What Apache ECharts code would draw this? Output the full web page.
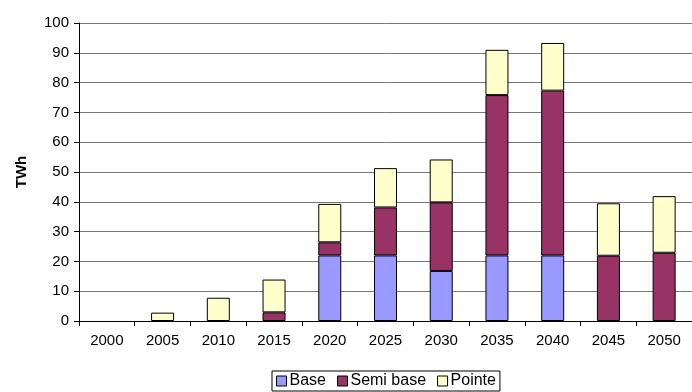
<!DOCTYPE html>
<html><head><meta charset="utf-8">
<script src="https://cdn.jsdelivr.net/npm/echarts@6/dist/echarts.min.js"></script>
<style>html,body{margin:0;padding:0;background:#fff}#c{width:692px;height:392px}</style>
</head><body><div id="c"></div>
<script>
var categories = ['2000','2005','2010','2015','2020','2025','2030','2035','2040','2045','2050'];
var base     = [0, 0, 0, 0, 22, 22, 16.8, 22, 22, 0, 0];
var semiBase = [0, 0, 0, 2.9, 4.4, 16.1, 23, 53.8, 55.3, 21.9, 22.9];
var pointe   = [0, 2.8, 7.8, 11, 12.9, 13.2, 14.4, 15.2, 16, 17.6, 19];
var yTicks = [0,10,20,30,40,50,60,70,80,90,100];

var font = 'Liberation Sans, Arial, sans-serif';
var chart = echarts.init(document.getElementById('c'), null, {renderer:'canvas'});
function s(name, data, color){
  return {name:name, type:'bar', stack:'t', barWidth:23,
    data:data.map(function(v){return v === 0 ? '-' : v;}),
    itemStyle:{color:color, borderColor:'#000', borderWidth:1}};
}
chart.setOption({
  animation:false,
  grid:{left:79, top:23, bottom:71, right:-11},
  legend:{top:371, left:272, itemWidth:10, itemHeight:10, itemGap:11,
    borderColor:'#000', borderWidth:1, padding:[2,4,2,4],
    textStyle:{fontFamily:font, fontSize:16, color:'#000', padding:[0,0,0,-2]},
    data:[{name:'Base',itemStyle:{borderColor:'#000',borderWidth:1}},
          {name:'Semi base',itemStyle:{borderColor:'#000',borderWidth:1}},
          {name:'Pointe',itemStyle:{borderColor:'#000',borderWidth:1}}],
    icon:'rect'},
  xAxis:{type:'category', data:categories,
    axisLine:{lineStyle:{color:'#000'}},
    axisTick:{show:true, alignWithLabel:false, length:5, lineStyle:{color:'#000'}},
    axisLabel:{fontFamily:font, fontSize:15, color:'#000', margin:12}},
  yAxis:{type:'value', min:0, max:100, interval:10,
    name:'TWh', nameLocation:'middle', nameGap:50, nameRotate:90,
    nameTextStyle:{fontFamily:font, fontSize:15, fontWeight:'bold', color:'#000'},
    axisLine:{show:true, lineStyle:{color:'#000'}},
    axisTick:{show:true, length:5, lineStyle:{color:'#000'}},
    axisLabel:{fontFamily:font, fontSize:15, color:'#000', margin:10,
      formatter:function(v){return yTicks.indexOf(v)>=0?String(v):'';}},
    splitLine:{lineStyle:{color:'#777', width:1}}},
  series:[s('Base', base, '#9999ff'), s('Semi base', semiBase, '#993366'), s('Pointe', pointe, '#ffffcc')]
});
</script></body></html>
